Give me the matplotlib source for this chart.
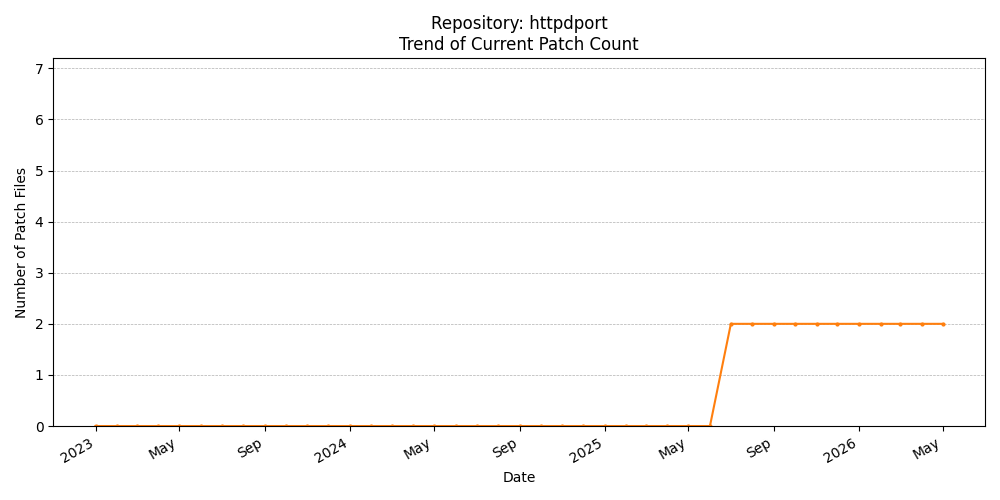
import matplotlib
matplotlib.use("Agg")
import matplotlib.pyplot as plt
import matplotlib.dates as mdates
import pandas as pd

dates = pd.date_range("2023-01-01", "2026-05-01", freq="MS")
counts = [0, 0, 0, 0, 0, 0, 0, 0, 0, 0, 0, 0,   # 2023
          0, 0, 0, 0, 0, 0, 0, 0, 0, 0, 0, 0,   # 2024
          0, 0, 0, 0, 0, 0, 2, 2, 2, 2, 2, 2,   # 2025
          2, 2, 2, 2, 2]                        # 2026 Jan-May

fig, ax = plt.subplots(figsize=(10, 5), dpi=100)
ax.plot(dates, counts, marker="o", markersize=2, color="#ff7f0e", linewidth=1.5)
ax.set_title("Repository: httpdport\nTrend of Current Patch Count")
ax.set_xlabel("Date")
ax.set_ylabel("Number of Patch Files")
ax.set_ylim(0, 7.2)
ax.grid(axis="y", linestyle="--", linewidth=0.5, color="#b0b0b0")
locator = mdates.AutoDateLocator()
ax.xaxis.set_major_locator(locator)
ax.xaxis.set_major_formatter(mdates.ConciseDateFormatter(locator))
fig.autofmt_xdate()
fig.tight_layout()
fig.savefig("out.png")
